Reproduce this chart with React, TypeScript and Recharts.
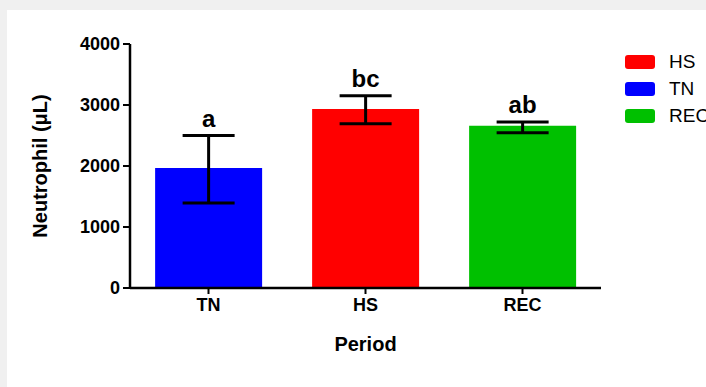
import { BarChart, Bar, Cell, XAxis, YAxis, ErrorBar, LabelList, Legend } from "recharts";

const periods = ["TN", "HS", "REC"];
const neutrophilMeans = [1967, 2934, 2660];
// [minus, plus]
const neutrophilErrors: [number, number][] = [
  [574, 533],
  [241, 219],
  [114, 61],
];
const groupLetters = ["a", "bc", "ab"];
const barColors = ["#0000ff", "#ff0000", "#00c000"];
const yTicks = [0, 1000, 2000, 3000, 4000];

const legendLabels = ["HS", "TN", "REC"];
const legendColors = ["#ff0000", "#0000ff", "#00c000"];

const FONT = '"Liberation Sans", Arial, Helvetica, sans-serif';

const data = periods.map((p, i) => ({
  period: p,
  mean: neutrophilMeans[i],
  err: neutrophilErrors[i],
  letter: groupLetters[i],
}));

/** Letter drawn just above the top whisker, using the bar's own pixel scale. */
function LetterLabel(props: any) {
  const { x, y, width, height, index } = props;
  const mean = neutrophilMeans[index];
  const pxPerUnit = height / mean;
  const topY = y + height - (mean + neutrophilErrors[index][1]) * pxPerUnit;
  return (
    <text
      x={x + width / 2}
      y={topY - 9}
      textAnchor="middle"
      fontFamily={FONT}
      fontWeight="bold"
      fontSize={24}
      fill="#000"
    >
      {groupLetters[index]}
    </text>
  );
}

function LegendBox() {
  return (
    <div style={{ fontFamily: FONT }}>
      {legendLabels.map((label, i) => (
        <div
          key={label}
          style={{ display: "flex", alignItems: "center", height: 27 }}
        >
          <span
            style={{
              display: "inline-block",
              width: 30,
              height: 14,
              borderRadius: 3,
              background: legendColors[i],
              marginRight: 14,
            }}
          />
          <span style={{ fontSize: 19, color: "#000" }}>{label}</span>
        </div>
      ))}
    </div>
  );
}

export default function App() {
  return (
    <div
      style={{
        position: "fixed",
        inset: 0,
        background: "#f0f0f0",
        overflow: "hidden",
      }}
    >
      <div
        style={{
          position: "absolute",
          left: 7,
          top: 10,
          width: 699,
          height: 377,
          background: "#fff",
          overflow: "hidden",
        }}
      >
        <BarChart
          width={699}
          height={377}
          data={data}
          margin={{ top: 34, right: 105, bottom: 29, left: 0 }}
          barCategoryGap="16%"
        >
          <XAxis
            dataKey="period"
            height={70}
            axisLine={{ stroke: "#000", strokeWidth: 2.5 }}
            tickLine={{ stroke: "#000", strokeWidth: 2 }}
            tickSize={6}
            tickMargin={4}
            tick={{ fill: "#000", fontSize: 18, fontWeight: "bold", fontFamily: FONT }}
            label={{
              content: ({ viewBox }: any) => (
                <text
                  x={viewBox.x + viewBox.width / 2}
                  y={viewBox.y + 63}
                  textAnchor="middle"
                  fontFamily={FONT}
                  fontWeight="bold"
                  fontSize={20}
                  fill="#000"
                >
                  Period
                </text>
              ),
            }}
          />
          <YAxis
            width={123}
            domain={[0, 4000]}
            ticks={yTicks}
            interval={0}
            axisLine={{ stroke: "#000", strokeWidth: 2.5 }}
            tickLine={{ stroke: "#000", strokeWidth: 2 }}
            tickSize={7}
            tickMargin={3}
            tick={{ fill: "#000", fontSize: 18, fontWeight: "bold", fontFamily: FONT }}
            label={{
              content: ({ viewBox }: any) => {
                const cx = viewBox.x + 33;
                const cy = viewBox.y + viewBox.height / 2;
                return (
                  <text
                    x={cx}
                    y={cy}
                    transform={`rotate(-90 ${cx} ${cy})`}
                    textAnchor="middle"
                    dominantBaseline="central"
                    fontFamily={FONT}
                    fontWeight="bold"
                    fontSize={20}
                    fill="#000"
                  >
                    Neutrophil (μL)
                  </text>
                );
              },
            }}
          />
          <Legend
            layout="horizontal"
            verticalAlign="middle"
            align="center"
            wrapperStyle={{ top: 38, left: 618, width: 100 }}
            content={() => <LegendBox />}
          />
          <Bar dataKey="mean" isAnimationActive={false}>
            {data.map((d, i) => (
              <Cell key={d.period} fill={barColors[i]} />
            ))}
            <ErrorBar
              dataKey="err"
              width={26}
              stroke="#000"
              strokeWidth={3}
              isAnimationActive={false}
            />
            <LabelList dataKey="letter" content={<LetterLabel />} />
          </Bar>
        </BarChart>
      </div>
    </div>
  );
}
